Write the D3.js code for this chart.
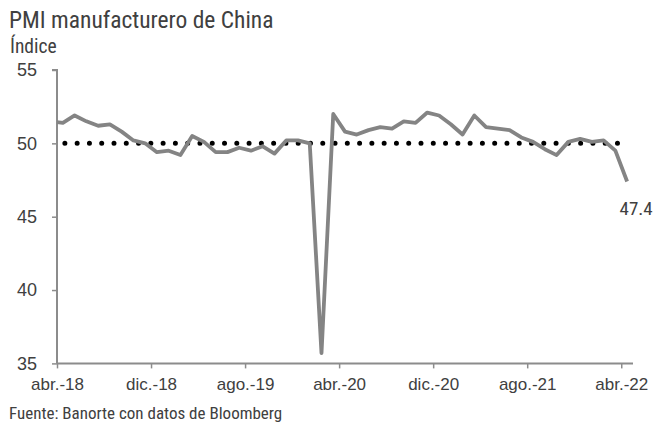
<!DOCTYPE html>
<html>
<head>
<meta charset="utf-8">
<script src="https://cdn.jsdelivr.net/npm/d3@7"></script>
<style>
  body { margin: 0; background: #fff; }
  text { font-family: 'Liberation Sans Narrow', 'Arial Narrow', 'Roboto Condensed', sans-serif; fill: #404040; }
</style>
</head>
<body>
<div id="chart"></div>
<script>
(() => {

// meses (mar.-18 queda fuera del eje, solo da el arranque de la linea)
const meses = [
  'mar.-18', 'abr.-18', 'may.-18', 'jun.-18', 'jul.-18', 'ago.-18', 'sep.-18', 'oct.-18', 'nov.-18', 'dic.-18',
  'ene.-19', 'feb.-19', 'mar.-19', 'abr.-19', 'may.-19', 'jun.-19', 'jul.-19', 'ago.-19', 'sep.-19', 'oct.-19', 'nov.-19', 'dic.-19',
  'ene.-20', 'feb.-20', 'mar.-20', 'abr.-20', 'may.-20', 'jun.-20', 'jul.-20', 'ago.-20', 'sep.-20', 'oct.-20', 'nov.-20', 'dic.-20',
  'ene.-21', 'feb.-21', 'mar.-21', 'abr.-21', 'may.-21', 'jun.-21', 'jul.-21', 'ago.-21', 'sep.-21', 'oct.-21', 'nov.-21', 'dic.-21',
  'ene.-22', 'feb.-22', 'mar.-22', 'abr.-22'
];

const pmi = [
  51.5, 51.4, 51.9, 51.5, 51.2, 51.3, 50.8, 50.2, 50.0, 49.4,
  49.5, 49.2, 50.5, 50.1, 49.4, 49.4, 49.7, 49.5, 49.8, 49.3, 50.2, 50.2,
  50.0, 35.7, 52.0, 50.8, 50.6, 50.9, 51.1, 51.0, 51.5, 51.4, 52.1, 51.9,
  51.3, 50.6, 51.9, 51.1, 51.0, 50.9, 50.4, 50.1, 49.6, 49.2, 50.1, 50.3,
  50.1, 50.2, 49.5, 47.4
];

const umbral = 50;
const xTickLabels = ['abr.-18', 'dic.-18', 'ago.-19', 'abr.-20', 'dic.-20', 'ago.-21', 'abr.-22'];
const yTicks = [35, 40, 45, 50, 55];

const config = {
  width: 656,
  height: 429,
  left: 57,
  right: 633,
  top: 70,
  bottom: 363.4,
  lineColor: '#848484',
  axisColor: '#8c8c8c'
};

const data = meses.map((m, i) => ({ mes: m, i: i, valor: pmi[i] }));
const firstIdx = meses.indexOf('abr.-18');

const svg = d3.select('#chart')
  .append('svg')
  .attr('width', config.width)
  .attr('height', config.height);

// eje x por indice de mes, cada mes ocupa una banda, el punto va al centro
const scaleX = d3.scaleLinear()
  .domain([firstIdx - 0.5, meses.length - 0.5])
  .range([config.left, config.right]);

const scaleY = d3.scaleLinear()
  .domain([35, 55])
  .range([config.bottom, config.top]);

svg.append('clipPath')
  .attr('id', 'plot-clip')
  .append('rect')
  .attr('x', config.left)
  .attr('y', 0)
  .attr('width', config.right - config.left)
  .attr('height', config.height);

// titulos
svg.append('text')
  .attr('x', 9)
  .attr('y', 28)
  .style('font-size', '23.5px')
  .text('PMI manufacturero de China');

svg.append('text')
  .attr('x', 10)
  .attr('y', 53)
  .style('font-size', '19.5px')
  .text('Índice');

// ejes
const xTickVals = xTickLabels.map(l => meses.indexOf(l) - 0.5);

const x_axis = d3.axisBottom(scaleX)
  .tickValues(xTickVals)
  .tickSize(5)
  .tickPadding(10)
  .tickFormat((d, i) => xTickLabels[i]);

const y_axis = d3.axisLeft(scaleY)
  .tickValues(yTicks)
  .tickSize(5)
  .tickPadding(15);

const gy = svg.append('g')
  .attr('transform', `translate(${config.left},0)`)
  .call(y_axis);

const gx = svg.append('g')
  .attr('transform', `translate(0,${config.bottom})`)
  .call(x_axis);

[gx, gy].forEach(g => {
  g.select('.domain').attr('stroke', config.axisColor).attr('stroke-width', 2);
  g.selectAll('.tick line').attr('stroke', config.axisColor).attr('stroke-width', 1.5);
  g.selectAll('.tick text')
    .style('font-family', "'Liberation Sans Narrow', 'Arial Narrow', sans-serif")
    .attr('fill', '#404040');
});
gy.selectAll('.tick text').style('font-size', '18px');
gx.selectAll('.tick text').style('font-size', '17px');
gy.select('.domain').attr('d', `M-5,${config.top}H0V${config.bottom}`);
gx.select('.domain').attr('d', `M${config.left},0H${config.right}`);

// linea de referencia en 50 (punteada)
const lineGen = d3.line()
  .x(d => scaleX(d.i))
  .y(d => scaleY(d.valor));

const refData = data.filter(d => d.i >= firstIdx).map(d => ({ i: d.i, valor: umbral }));

svg.append('path')
  .datum(refData)
  .attr('d', lineGen)
  .attr('fill', 'none')
  .attr('stroke', '#000')
  .attr('stroke-width', 5)
  .attr('stroke-linecap', 'round')
  .attr('stroke-dasharray', '0 12.28')
  .attr('stroke-dashoffset', -2);

// serie PMI
svg.append('path')
  .datum(data)
  .attr('clip-path', 'url(#plot-clip)')
  .attr('d', lineGen)
  .attr('fill', 'none')
  .attr('stroke', config.lineColor)
  .attr('stroke-width', 3.8)
  .attr('stroke-linejoin', 'round');

// etiqueta del ultimo dato
const last = data[data.length - 1];
svg.append('text')
  .attr('x', scaleX(last.i) + 9)
  .attr('y', scaleY(last.valor) + 34)
  .attr('text-anchor', 'middle')
  .style('font-size', '19px')
  .text(last.valor.toFixed(1));

// fuente
svg.append('text')
  .attr('x', 9)
  .attr('y', 419)
  .style('font-size', '17px')
  .text('Fuente: Banorte con datos de Bloomberg');

})();
</script>
</body>
</html>
